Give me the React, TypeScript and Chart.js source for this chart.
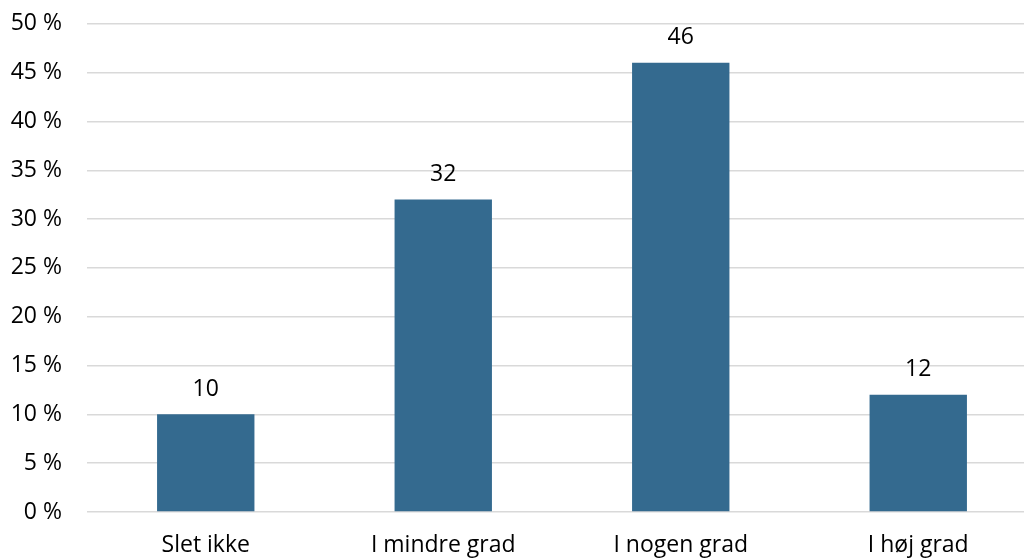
import React, { useEffect, useRef } from "react";
import { Chart, registerables } from "chart.js";

Chart.register(...registerables);

const categories = ["Slet ikke", "I mindre grad", "I nogen grad", "I høj grad"];
const shares = [10, 32, 46, 12];
const yTicks = [0, 5, 10, 15, 20, 25, 30, 35, 40, 45, 50];

const FONT = "'Open Sans', 'Noto Sans', sans-serif";
const BAR_COLOR = "#346A8F";
const FONT_SIZE = 23;

// The y tick padding pushes the chart area down; the canvas is shifted up to compensate.
const SHIFT = 15;

const valueLabels = {
  id: "valueLabels",
  afterDatasetsDraw(chart: any) {
    const { ctx } = chart;
    const meta = chart.getDatasetMeta(0);
    ctx.save();
    ctx.font = `${FONT_SIZE}px ${FONT}`;
    ctx.fillStyle = "#000";
    ctx.textAlign = "center";
    ctx.textBaseline = "middle";
    meta.data.forEach((bar: any, i: number) => {
      ctx.fillText(String(shares[i]), bar.x, bar.y - 25);
    });
    ctx.restore();
  },
};

export default function App() {
  const ref = useRef<HTMLCanvasElement | null>(null);

  useEffect(() => {
    if (!ref.current) return;
    const chart = new Chart(ref.current, {
      type: "bar",
      data: {
        labels: categories,
        datasets: [
          {
            data: shares,
            backgroundColor: BAR_COLOR,
            borderWidth: 0,
            categoryPercentage: 1,
            barPercentage: 0.41,
          },
        ],
      },
      options: {
        animation: false,
        responsive: false,
        maintainAspectRatio: false,
        layout: { padding: { top: 8, right: 3, left: 0, bottom: 0 } },
        plugins: {
          legend: { display: false },
          tooltip: { enabled: false },
        },
        scales: {
          x: {
            grid: { display: false, drawTicks: false },
            border: { display: false },
            ticks: {
              color: "#000",
              font: { family: FONT, size: FONT_SIZE },
              padding: 20,
              maxRotation: 0,
            },
            afterFit(scale: any) {
              scale.height = 47;
            },
          },
          y: {
            min: 0,
            max: 50,
            afterBuildTicks(scale: any) {
              scale.ticks = yTicks.map((v) => ({ value: v }));
            },
            grid: { color: "#d9d9d9", lineWidth: 1.5, drawTicks: false },
            border: { display: false },
            ticks: {
              color: "#000",
              font: { family: FONT, size: FONT_SIZE },
              padding: 25,
              callback: (v: any) => `${v} %`,
            },
            afterFit(scale: any) {
              scale.width = 87;
            },
          },
        },
      },
      plugins: [valueLabels],
    });
    return () => chart.destroy();
  }, []);

  return (
    <div
      style={{
        position: "fixed",
        left: 0,
        top: 0,
        width: 1024,
        height: 559,
        overflow: "hidden",
        background: "#fff",
      }}
    >
      <canvas
        ref={ref}
        width={1040}
        height={559 + SHIFT}
        style={{ display: "block", position: "absolute", left: 0, top: -SHIFT }}
      />
    </div>
  );
}
